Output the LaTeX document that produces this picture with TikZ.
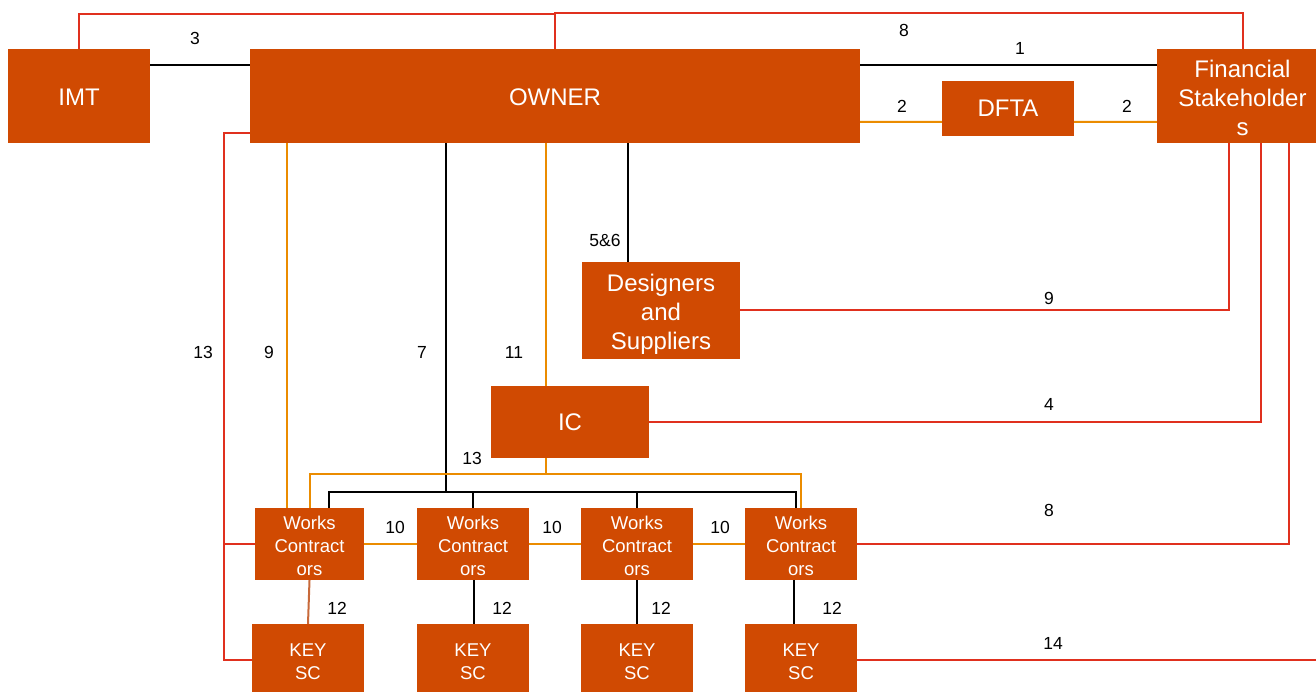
\documentclass[tikz,border=0pt]{standalone}
\usepackage{fontspec}
\setmainfont{Liberation Sans}
\definecolor{boxc}{HTML}{D04A02}
\definecolor{redl}{HTML}{E0301E}
\definecolor{orgl}{HTML}{EB8C00}
\definecolor{brnl}{HTML}{C8693A}
\newcommand{\tpad}[1]{\rule{0pt}{#1}}
\begin{document}
\begin{tikzpicture}[x=1pt,y=-1pt,
  box/.style={draw=none,fill=boxc,text=white,align=center,inner sep=0pt,font=\fontsize{24}{29}\selectfont},
  sbox/.style={box,font=\fontsize{18.5}{23}\selectfont,minimum width=112,minimum height=72},
  lab/.style={font=\fontsize{17.5}{20}\selectfont,inner sep=0pt},
  blk/.style={draw=black,line width=2pt},
  redc/.style={draw=redl,line width=2pt},
  orc/.style={draw=orgl,line width=2pt},
  brc/.style={draw=brnl,line width=2pt}
]
\clip (0,0) rectangle (1316,692);
\fill[white] (0,0) rectangle (1316,692);

% boxes
\node[box,minimum width=142,minimum height=94] (imt) at (79,96) {\tpad{19.2pt}IMT};
\node[box,minimum width=610,minimum height=94] (owner) at (555,96) {\tpad{19.2pt}OWNER};
\node[box,minimum width=132,minimum height=55] (dfta) at (1008,108.5) {DFTA};
\node[box,minimum width=171,minimum height=94] (fs) at (1242.5,96) {\tpad{20.5pt}Financial\\Stakeholder\\s};
\node[box,minimum width=158,minimum height=97] (des) at (661,310.5) {\tpad{25.5pt}Designers\\and\\Suppliers};
\node[box,minimum width=158,minimum height=72] (ic) at (570,422) {IC};
\node[sbox,minimum width=109] (wc1) at (309.5,544) {\tpad{17.2pt}Works\\Contract\\ors};
\node[sbox] (wc2) at (473,544) {\tpad{17.2pt}Works\\Contract\\ors};
\node[sbox] (wc3) at (637,544) {\tpad{17.2pt}Works\\Contract\\ors};
\node[sbox] (wc4) at (801,544) {\tpad{17.2pt}Works\\Contract\\ors};
\node[sbox] (ks1) at (308,660) {\tpad{16.3pt}KEY\\SC};
\node[sbox] (ks2) at (473,660) {\tpad{16.3pt}KEY\\SC};
\node[sbox] (ks3) at (637,660) {\tpad{16.3pt}KEY\\SC};
\node[sbox] (ks4) at (801,660) {\tpad{16.3pt}KEY\\SC};

% top connectors
\draw[blk] ([yshift=-16]imt.north east) -- ([yshift=-16]owner.north west);
\draw[redc] (imt.north) -- ++(0,-35) -| (owner.north);
\draw[redc] (owner.north) -- ++(0,-36) -| (fs.north);
\draw[blk] ([yshift=-16]owner.north east) -- ([yshift=-16]fs.north west);
\draw[orc] ([yshift=-73]owner.north east) -- ([yshift=-13.5]dfta.west);
\draw[orc] ([yshift=-13.5]dfta.east) -- ([yshift=-73]fs.north west);

% financial stakeholders downward
\draw[redc] ([xshift=-13.5]fs.south) |- (des.east);
\draw[redc] ([xshift=18.5]fs.south) |- (ic.east);
\draw[redc] ([xshift=46.5]fs.south) |- (wc4.east);
\coordinate (e14) at (1330,660);
\draw[redc] (ks4.east) -- (e14);

% owner downward
\draw[blk] ([xshift=73]owner.south) -- ([xshift=-33]des.north);
\draw[orc] ([xshift=-9]owner.south) -- ([xshift=-24]ic.north);
\coordinate (bus7) at (446,492);
\draw[blk] ([xshift=-109]owner.south) -- (bus7);
\draw[orc] ([xshift=-268]owner.south) -- ([xshift=-22.5]wc1.north);
\draw[redc] ([yshift=-84]owner.north west) -- ++(-26,0) |- (ks1.west);
\draw[redc] (wc1.west) -- ++(-31,0);

% buses
\draw[blk] ([xshift=19.5]wc1.north) -- ++(0,-16) -| ([xshift=-5]wc4.north);
\draw[blk] (wc2.north) -- ++(0,-16);
\draw[blk] (wc3.north) -- ++(0,-16);
\draw[orc] (wc1.north) -- ++(0,-33.5) -| (wc4.north);
\draw[orc] ([xshift=-24]ic.south) -- ++(0,16.5);

% contractors
\draw[orc] (wc1.east) -- (wc2.west);
\draw[orc] (wc2.east) -- (wc3.west);
\draw[orc] (wc3.east) -- (wc4.west);
\draw[brc] (wc1.south) -- (ks1.north);
\draw[blk] ([xshift=1]wc2.south) -- ([xshift=1]ks2.north);
\draw[blk] (wc3.south) -- (ks3.north);
\draw[blk] ([xshift=-7]wc4.south) -- ([xshift=-7]ks4.north);

% labels
\node[lab] (l3) at (195,38) {3};
\node[lab] (l8a) at (904,30) {8};
\node[lab] (l1) at (1020,48) {1};
\node[lab] (l2a) at (902,106) {2};
\node[lab] (l2b) at (1127,106) {2};
\node[lab] (l56) at (605,240) {5\&6};
\node[lab] (l9a) at (1049,298) {9};
\node[lab] (l4) at (1049,404) {4};
\node[lab] (l13a) at (203,352) {13};
\node[lab] (l9b) at (269,352) {9};
\node[lab] (l7) at (422,352) {7};
\node[lab] (l11) at (514,352) {11};
\node[lab] (l13b) at (472,458) {13};
\node[lab] (l10a) at (395,527) {10};
\node[lab] (l10b) at (552,527) {10};
\node[lab] (l10c) at (720,527) {10};
\node[lab] (l8b) at (1049,510) {8};
\node[lab] (l12a) at (337,608) {12};
\node[lab] (l12b) at (502,608) {12};
\node[lab] (l12c) at (661,608) {12};
\node[lab] (l12d) at (832,608) {12};
\node[lab] (l14) at (1053,643) {14};
\end{tikzpicture}
\end{document}
